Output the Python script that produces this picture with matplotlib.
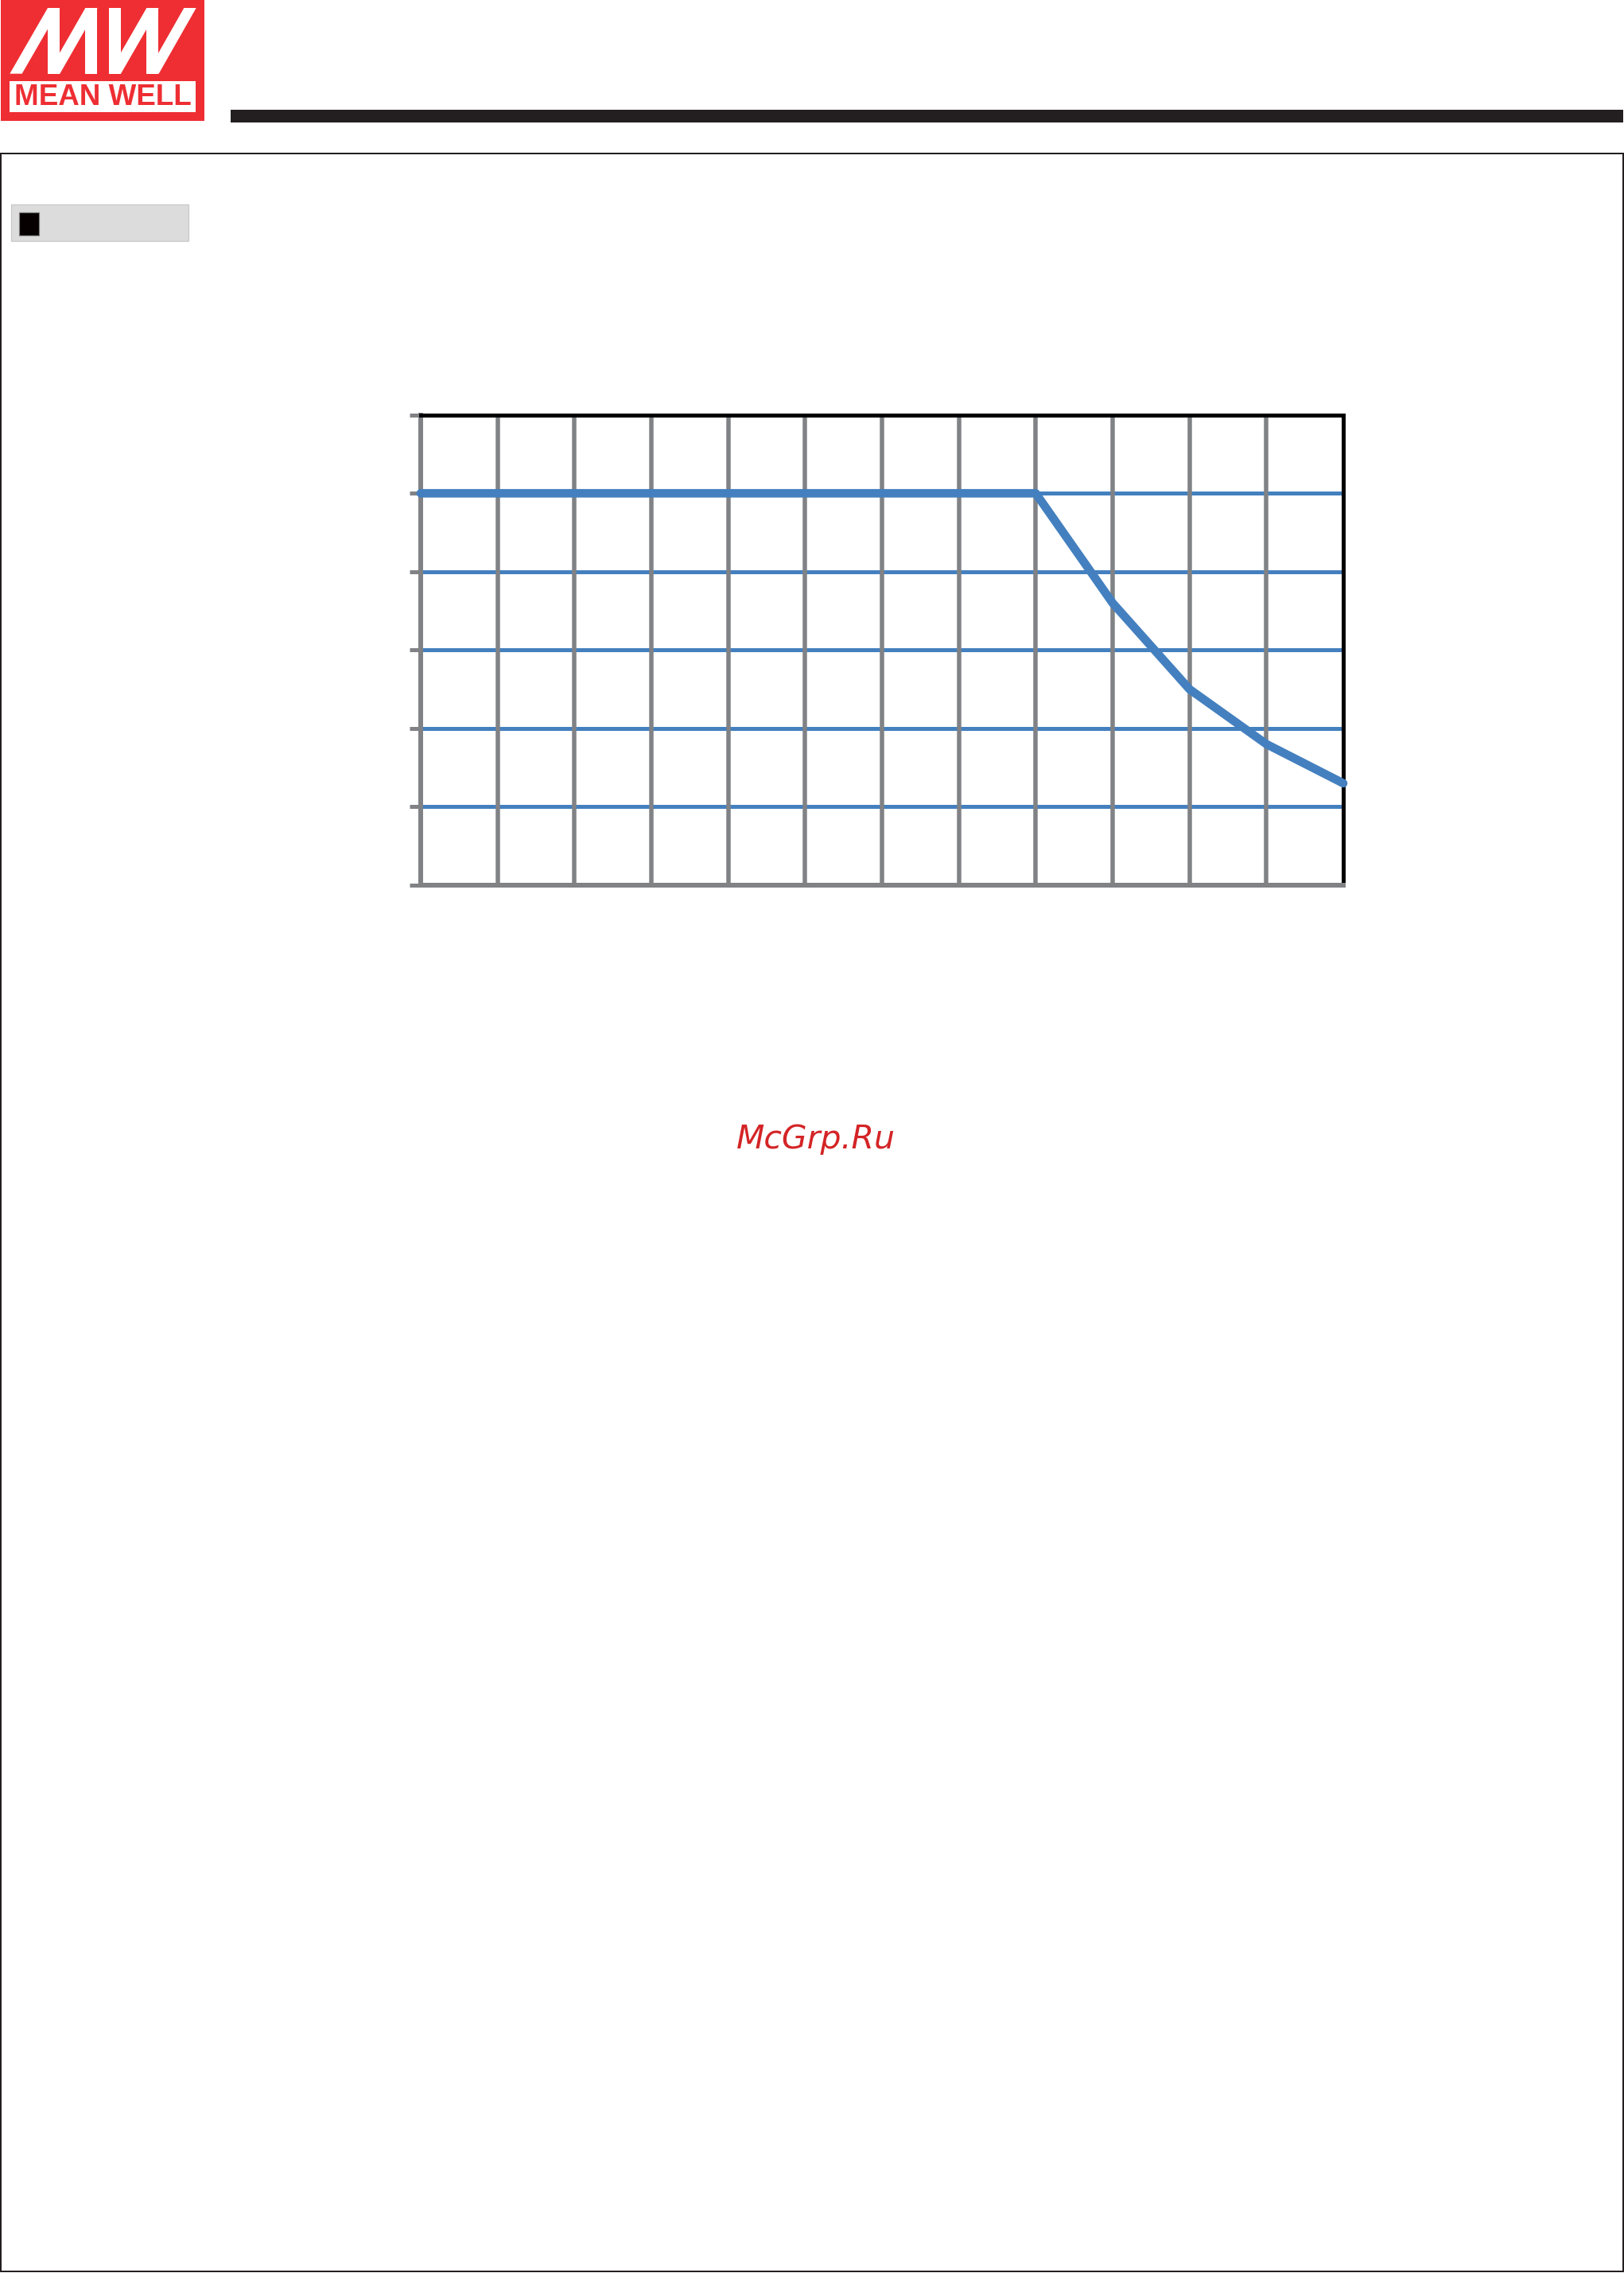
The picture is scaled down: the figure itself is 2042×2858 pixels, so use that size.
import matplotlib
matplotlib.use('Agg')
import matplotlib.pyplot as plt
from matplotlib.patches import Rectangle, Polygon

# ---- data (derating curve: ambient temperature vs load) ----
temps = [-30, 50, 60, 70, 80, 90]
load = [100, 100, 72, 50, 36, 26]
x_ticks = list(range(-30, 91, 10))
y_ticks = list(range(0, 121, 20))
watermark = "McGrp.Ru"
brand = "MEAN WELL"

W, H = 2042, 2858
PT = 0.72  # px -> pt at dpi 100
BLUE = '#4480BF'
GREY = '#808285'
RED = '#EE2E33'

fig = plt.figure(figsize=(W / 100, H / 100), dpi=100)
fig.patch.set_facecolor('white')

# ---- page decorations in pixel coordinates ----
bg = fig.add_axes([0, 0, 1, 1])
bg.set_xlim(0, W)
bg.set_ylim(H, 0)
bg.axis('off')

# logo
bg.add_patch(Rectangle((1, 0), 256, 152, facecolor=RED, edgecolor='none'))
bg.add_patch(Rectangle((12, 102), 234, 39, facecolor='white', edgecolor='none'))
bg.text(129, 122, brand, color=RED, fontsize=26.5, fontweight='bold',
        family='Liberation Sans', ha='center', va='center')


def s(pts):
    return [(x / 3, y / 3) for x, y in pts]


def diag(xb, xt, w=46):
    return [(xb, 278), (xb + w, 278), (xt + w, 30), (xt, 30)]


def vbar(x, w=45):
    return [(x, 278), (x + w, 278), (x + w, 30), (x, 30)]


mw_shapes = [
    # M : / | / |
    diag(37, 180), vbar(180), diag(180, 322), vbar(321),
    # W : | / | /
    vbar(410), diag(410, 553), vbar(553), diag(553, 694),
]
for shp in mw_shapes:
    bg.add_patch(Polygon(s(shp), closed=True, facecolor='white', edgecolor='none'))

# black header bar
bg.add_patch(Rectangle((290, 138), 1751, 16, facecolor='#231F20', edgecolor='none'))
# page border
bg.add_patch(Rectangle((1, 193), 2040, 2663, facecolor='none', edgecolor='#231F20', linewidth=2 * PT))
# section heading box
bg.add_patch(Rectangle((13.5, 256.5), 223, 46, facecolor='#DCDCDC', edgecolor='#C8C8C8', linewidth=1.2 * PT))
bg.add_patch(Rectangle((23.5, 266.5), 25.5, 29, facecolor='#060000', edgecolor='#808080', linewidth=1.2 * PT))

# watermark
bg.text(1026, 1432, watermark, color='#D42426', fontsize=29.5, style='italic',
        family='DejaVu Sans', ha='center', va='center')

# ---- chart ----
L, R, T, B = 529, 1689, 521.7, 1113
ax = fig.add_axes([L / W, 1 - B / H, (R - L) / W, (B - T) / H])
ax.set_xlim(x_ticks[0], x_ticks[-1])
ax.set_ylim(y_ticks[0], y_ticks[-1])
ax.patch.set_alpha(0)

for y in y_ticks[1:-1]:
    ax.axhline(y, color=BLUE, linewidth=5 * PT, zorder=1)
for x in x_ticks[1:-1]:
    ax.axvline(x, color=GREY, linewidth=5.5 * PT, zorder=2)

ax.plot(temps, load, color=BLUE, linewidth=10.7 * PT, solid_capstyle='round',
        solid_joinstyle='round', zorder=4, clip_on=False)

ax.spines['top'].set_color('black')
ax.spines['right'].set_color('black')
ax.spines['top'].set_linewidth(5 * PT)
ax.spines['right'].set_linewidth(5 * PT)
ax.spines['left'].set_color(GREY)
ax.spines['bottom'].set_color(GREY)
ax.spines['left'].set_linewidth(6 * PT)
ax.spines['bottom'].set_linewidth(6 * PT)
for sp in ax.spines.values():
    sp.set_zorder(3)

ax.set_xticks([])
ax.set_yticks(y_ticks)
ax.tick_params(axis='y', length=10, width=5 * PT, color=GREY, labelleft=False, direction='out')

fig.savefig('out.png', dpi=100)
